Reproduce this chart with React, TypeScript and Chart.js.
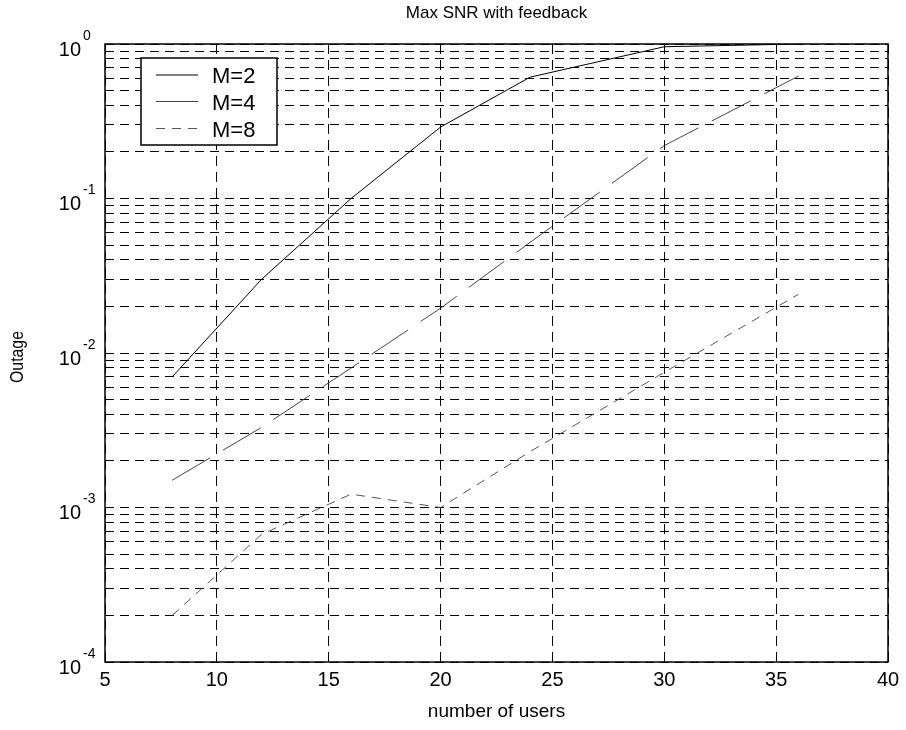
import { useEffect, useRef } from 'react';
import { Chart, registerables } from 'chart.js';

Chart.register(...registerables);

// ---- data ----
const users = [8, 12, 16, 20, 24, 30, 36];
const outageM2 = [0.007, 0.03, 0.1, 0.29, 0.61, 0.96, 1.0];
const outageM4 = [0.0015, 0.0033, 0.008, 0.0195, 0.052, 0.22, 0.62];
const outageM8 = [0.0002, 0.00067, 0.00122, 0.001, 0.0023, 0.0075, 0.024];
const seriesLabels = ['M=2', 'M=4', 'M=8'];
const xTickValues = [5, 10, 15, 20, 25, 30, 35, 40];
const yDecadeExponents = [-4, -3, -2, -1, 0];
const titleText = 'Max SNR with feedback';
const xLabelText = 'number of users';
const yLabelText = 'Outage';

const FONT = '"Liberation Sans", Arial, sans-serif';

const seriesStyles = [
  { color: '#000000', dash: [] as number[] },
  { color: '#444444', dash: [44, 15] },
  { color: '#555555', dash: [9, 7] },
];

function buildYTicks() {
  const t: { value: number }[] = [];
  for (const e of yDecadeExponents) {
    if (e === 0) {
      t.push({ value: 1 });
      break;
    }
    for (let m = 1; m <= 9; m++) t.push({ value: m * Math.pow(10, e) });
  }
  return t;
}

const overlayPlugin = {
  id: 'overlay',
  afterDraw(chart: any) {
    const ctx = chart.ctx as CanvasRenderingContext2D;
    const area = chart.chartArea;
    const yScale = chart.scales.y;
    ctx.save();
    // plot box
    ctx.strokeStyle = '#000';
    ctx.lineWidth = 1.5;
    ctx.setLineDash([]);
    ctx.strokeRect(area.left, area.top, area.right - area.left, area.bottom - area.top);

    // y decade labels with exponent
    ctx.fillStyle = '#000';
    for (const e of yDecadeExponents) {
      const py = yScale.getPixelForValue(Math.pow(10, e));
      ctx.font = `20px ${FONT}`;
      ctx.textAlign = 'right';
      ctx.textBaseline = 'middle';
      ctx.fillText('10', area.left - 24, py + 6);
      ctx.font = `14px ${FONT}`;
      ctx.textAlign = 'left';
      ctx.fillText(String(e), area.left - 22, py - 8);
    }

    // title
    const cx = (area.left + area.right) / 2;
    ctx.font = `17px ${FONT}`;
    ctx.textAlign = 'center';
    ctx.textBaseline = 'middle';
    ctx.fillText(titleText, cx, 13);

    // x axis title
    ctx.font = `19px ${FONT}`;
    ctx.fillText(xLabelText, cx, 712);

    // y axis title (squeezed like the reference)
    ctx.save();
    ctx.translate(18, 357);
    ctx.rotate(-Math.PI / 2);
    ctx.font = `19px ${FONT}`;
    ctx.fillText(yLabelText, 0, 0, 52);
    ctx.restore();

    // legend
    const lx = 141, ly = 58, lw = 136, lh = 87;
    ctx.fillStyle = '#fff';
    ctx.fillRect(lx, ly, lw, lh);
    ctx.strokeStyle = '#000';
    ctx.lineWidth = 1.5;
    ctx.strokeRect(lx, ly, lw, lh);
    const rows = [75, 101.5, 128.5];
    seriesLabels.forEach((lab, i) => {
      const st = seriesStyles[i];
      ctx.strokeStyle = st.color;
      ctx.lineWidth = 1;
      ctx.setLineDash(i === 2 ? st.dash : []);
      ctx.beginPath();
      ctx.moveTo(156, rows[i]);
      ctx.lineTo(198, rows[i]);
      ctx.stroke();
      ctx.setLineDash([]);
      ctx.fillStyle = '#000';
      ctx.font = `22px ${FONT}`;
      ctx.textAlign = 'left';
      ctx.textBaseline = 'middle';
      ctx.fillText(lab, 212, rows[i] + 2);
    });
    ctx.restore();
  },
};

export default function App() {
  const ref = useRef<HTMLCanvasElement | null>(null);
  useEffect(() => {
    if (!ref.current) return;
    const series = [outageM2, outageM4, outageM8];
    const chart = new Chart(ref.current, {
      type: 'line',
      data: {
        datasets: series.map((arr, i) => ({
          label: seriesLabels[i],
          data: users.map((x, j) => ({ x, y: arr[j] })),
          borderColor: seriesStyles[i].color,
          borderWidth: 1,
          borderDash: seriesStyles[i].dash,
          pointRadius: 0,
          tension: 0,
          fill: false,
        })),
      },
      options: {
        animation: false,
        responsive: false,
        devicePixelRatio: 1,
        layout: { padding: { left: 0, top: 44, right: 18, bottom: 0 } },
        plugins: { legend: { display: false }, title: { display: false }, tooltip: { enabled: false } },
        scales: {
          x: {
            type: 'linear',
            min: 5,
            max: 40,
            afterBuildTicks: (s: any) => {
              s.ticks = xTickValues.map((v) => ({ value: v }));
            },
            afterFit: (s: any) => {
              s.height = 68;
            },
            ticks: {
              color: '#000',
              font: { family: FONT, size: 20 },
              padding: 6,
              maxRotation: 0,
              autoSkip: false,
            },
            grid: { color: '#000', lineWidth: 1, drawTicks: false },
            border: { display: false, dash: [10, 6] },
          },
          y: {
            type: 'logarithmic',
            min: 1e-4,
            max: 1,
            afterBuildTicks: (s: any) => {
              s.ticks = buildYTicks();
            },
            afterFit: (s: any) => {
              s.width = 105;
            },
            ticks: { display: false },
            grid: { color: '#000', lineWidth: 1, drawTicks: false },
            border: { display: false, dash: [9, 6] },
          },
        },
      },
      plugins: [overlayPlugin],
    } as any);
    return () => chart.destroy();
  }, []);
  return (
    <div style={{ position: 'absolute', left: 0, top: 0, width: 906, height: 730, background: '#fff' }}>
      <canvas ref={ref} width={906} height={730} style={{ display: 'block', width: 906, height: 730 }} />
    </div>
  );
}
